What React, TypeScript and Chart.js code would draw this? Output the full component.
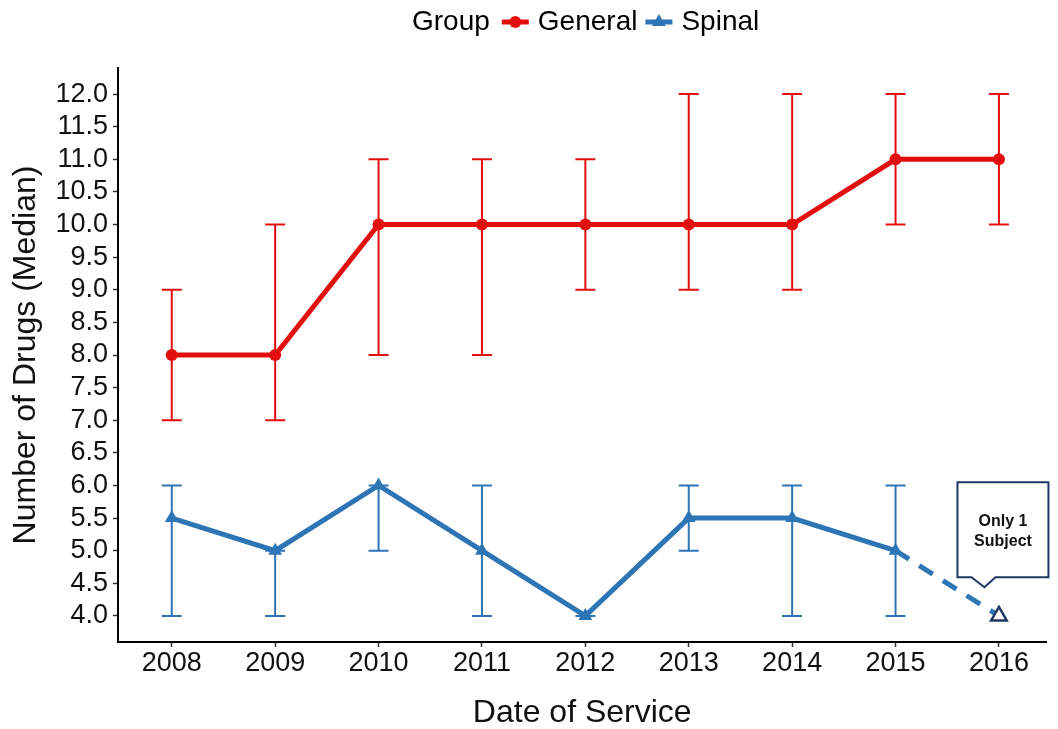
import React, { useEffect, useRef } from "react";
import { Chart, registerables } from "chart.js";

Chart.register(...registerables);

// Years of service
const years = [2008, 2009, 2010, 2011, 2012, 2013, 2014, 2015, 2016];

// General anaesthesia group: median and error-bar range
const generalMedian = [8, 8, 10, 10, 10, 10, 10, 11, 11];
const generalLow = [7, 7, 8, 8, 9, 9, 9, 10, 10];
const generalHigh = [9, 10, 11, 11, 11, 12, 12, 12, 12];

// Spinal group: median and error-bar range (2008-2015)
const spinalYears = [2008, 2009, 2010, 2011, 2012, 2013, 2014, 2015];
const spinalMedian = [5.5, 5, 6, 5, 4, 5.5, 5.5, 5];
const spinalLow = [4, 4, 5, 4, 4, 5, 4, 4];
const spinalHigh = [6, 5, 6, 6, 4, 6, 6, 6];

// Spinal 2016: a single subject, joined by a dashed segment
const singleYears = [2015, 2016];
const singleMedian = [5, 4];

const yTicks = [4, 4.5, 5, 5.5, 6, 6.5, 7, 7.5, 8, 8.5, 9, 9.5, 10, 10.5, 11, 11.5, 12];

const legendTitle = "Group";
const legendLabels = ["General", "Spinal"];
const calloutLines = ["Only 1", "Subject"];

const RED = "#e30e0e";
const BLUE = "#2e75b6";
const NAVY = "#203864";
const FONT = "'Liberation Sans', Arial, sans-serif";

// Tip of the callout pointer, in data units
const calloutTip = { x: 2015.86, y: 4.44 };

const errorBarsPlugin = {
  id: "errorBars",
  beforeDatasetsDraw(chart: any) {
    const { ctx, scales } = chart;
    const xs = scales.x;
    const ys = scales.y;
    const groups = [
      { xv: years, lo: generalLow, hi: generalHigh, color: RED },
      { xv: spinalYears, lo: spinalLow, hi: spinalHigh, color: BLUE },
    ];
    ctx.save();
    ctx.lineWidth = 2;
    groups.forEach((g) => {
      ctx.strokeStyle = g.color;
      g.xv.forEach((yr, i) => {
        const px = xs.getPixelForValue(yr);
        const pLo = ys.getPixelForValue(g.lo[i]);
        const pHi = ys.getPixelForValue(g.hi[i]);
        ctx.beginPath();
        ctx.moveTo(px, pLo);
        ctx.lineTo(px, pHi);
        ctx.moveTo(px - 10, pLo);
        ctx.lineTo(px + 10, pLo);
        ctx.moveTo(px - 10, pHi);
        ctx.lineTo(px + 10, pHi);
        ctx.stroke();
      });
    });
    ctx.restore();
  },
};

const legendPlugin = {
  id: "groupLegend",
  afterDraw(chart: any) {
    const { ctx } = chart;
    const cy = 22;
    ctx.save();
    ctx.font = `28px ${FONT}`;
    ctx.fillStyle = "#000";
    ctx.textBaseline = "middle";
    ctx.textAlign = "left";
    let x = 412;
    ctx.fillText(legendTitle, x, cy);
    x += ctx.measureText(legendTitle).width + 12;
    const colors = [RED, BLUE];
    legendLabels.forEach((label, i) => {
      const symW = 27;
      ctx.strokeStyle = colors[i];
      ctx.fillStyle = colors[i];
      ctx.lineWidth = 5;
      ctx.beginPath();
      ctx.moveTo(x, cy);
      ctx.lineTo(x + symW, cy);
      ctx.stroke();
      const mx = x + symW / 2;
      ctx.beginPath();
      if (i === 0) {
        ctx.arc(mx, cy, 6, 0, Math.PI * 2);
      } else {
        const r = 8;
        ctx.moveTo(mx, cy - r);
        ctx.lineTo(mx + r * 0.866, cy + r * 0.5);
        ctx.lineTo(mx - r * 0.866, cy + r * 0.5);
        ctx.closePath();
      }
      ctx.fill();
      x += symW + 9;
      ctx.fillStyle = "#000";
      ctx.fillText(label, x, cy);
      x += ctx.measureText(label).width + 8;
    });
    ctx.restore();
  },
};

const calloutPlugin = {
  id: "callout",
  afterDraw(chart: any) {
    const { ctx, scales } = chart;
    const tx = scales.x.getPixelForValue(calloutTip.x);
    const ty = scales.y.getPixelForValue(calloutTip.y);
    const left = tx - 27;
    const right = tx + 64;
    const bottom = ty - 10;
    const top = bottom - 95;
    ctx.save();
    ctx.beginPath();
    ctx.moveTo(left, top);
    ctx.lineTo(right, top);
    ctx.lineTo(right, bottom);
    ctx.lineTo(tx + 11, bottom);
    ctx.lineTo(tx, ty);
    ctx.lineTo(tx - 13, bottom);
    ctx.lineTo(left, bottom);
    ctx.closePath();
    ctx.fillStyle = "#fff";
    ctx.fill();
    ctx.strokeStyle = NAVY;
    ctx.lineWidth = 2;
    ctx.stroke();
    ctx.fillStyle = "#111";
    ctx.font = `bold 16px ${FONT}`;
    ctx.textAlign = "center";
    ctx.textBaseline = "middle";
    const cx = (left + right) / 2;
    ctx.fillText(calloutLines[0], cx, top + 39);
    ctx.fillText(calloutLines[1], cx, top + 59);
    ctx.restore();
  },
};

export default function App() {
  const canvasRef = useRef<HTMLCanvasElement | null>(null);

  useEffect(() => {
    if (!canvasRef.current) return;
    Chart.defaults.font.family = FONT;
    const chart = new Chart(canvasRef.current, {
      type: "line",
      data: {
        datasets: [
          {
            label: legendLabels[0],
            data: years.map((x, i) => ({ x, y: generalMedian[i] })),
            borderColor: RED,
            backgroundColor: RED,
            borderWidth: 5,
            pointRadius: 6,
            pointBorderWidth: 0,
            pointBackgroundColor: RED,
          },
          {
            label: legendLabels[1],
            data: spinalYears.map((x, i) => ({ x, y: spinalMedian[i] })),
            borderColor: BLUE,
            backgroundColor: BLUE,
            borderWidth: 5,
            pointStyle: "triangle",
            pointRadius: 8,
            pointBorderWidth: 0,
            pointBackgroundColor: BLUE,
          },
          {
            label: "single",
            data: singleYears.map((x, i) => ({ x, y: singleMedian[i] })),
            borderColor: BLUE,
            borderWidth: 5,
            borderDash: [16, 12],
            pointStyle: "triangle",
            pointRadius: [0, 9],
            pointBorderWidth: 2.5,
            pointBorderColor: NAVY,
            pointBackgroundColor: "#fff",
          },
        ],
      },
      options: {
        responsive: false,
        animation: false,
        layout: { padding: { top: 68, right: 10, left: 0, bottom: 0 } },
        plugins: {
          legend: { display: false },
          tooltip: { enabled: false },
        },
        scales: {
          x: {
            type: "linear",
            min: 2007.48,
            max: 2016.46,
            afterBuildTicks: (s: any) => {
              s.ticks = years.map((v) => ({ value: v }));
            },
            afterFit: (s: any) => {
              s.height = 87;
            },
            ticks: {
              autoSkip: false,
              maxRotation: 0,
              padding: 0,
              color: "#111",
              font: { size: 27 },
              callback: (v: any) => String(v),
            },
            grid: {
              drawOnChartArea: false,
              tickLength: 5,
              tickColor: "#333",
              tickWidth: 1.5,
            },
            border: { color: "#000", width: 2 },
            title: {
              display: true,
              text: "Date of Service",
              color: "#111",
              font: { size: 32, lineHeight: 1 },
              padding: 0,
            },
          },
          y: {
            type: "linear",
            min: 3.6,
            max: 12.4,
            afterBuildTicks: (s: any) => {
              s.ticks = yTicks.map((v) => ({ value: v }));
            },
            afterFit: (s: any) => {
              s.width = 118;
            },
            ticks: {
              padding: 5,
              color: "#111",
              font: { size: 27 },
              callback: (v: any) => Number(v).toFixed(1),
            },
            grid: {
              drawOnChartArea: false,
              tickLength: 5,
              tickColor: "#333",
              tickWidth: 1.5,
            },
            border: { color: "#000", width: 2 },
            title: {
              display: true,
              text: "Number of Drugs (Median)",
              color: "#111",
              font: { size: 32, lineHeight: 1 },
              padding: { top: 10, bottom: 0 },
            },
          },
        },
      },
      plugins: [errorBarsPlugin, legendPlugin, calloutPlugin],
    } as any);
    return () => chart.destroy();
  }, []);

  return (
    <div style={{ position: "fixed", left: 0, top: 0, width: 1058, height: 729, background: "#fff" }}>
      <canvas ref={canvasRef} width={1058} height={729} style={{ display: "block" }} />
    </div>
  );
}
